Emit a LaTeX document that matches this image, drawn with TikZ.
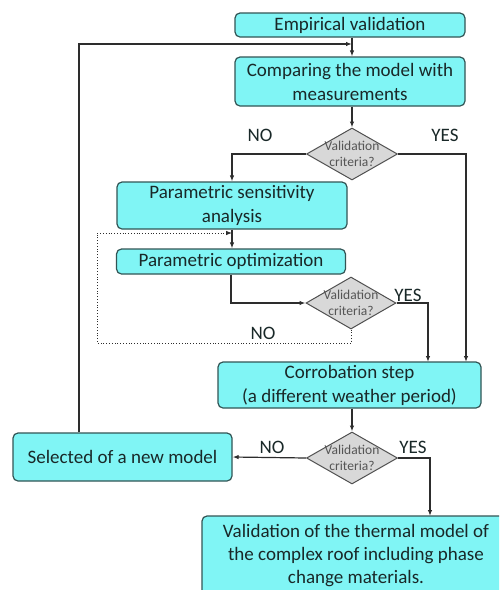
\documentclass[tikz,border=0pt]{standalone}
\usepackage{fontspec}
\setmainfont{Carlito}
\usetikzlibrary{shapes.geometric,arrows.meta,calc}
\definecolor{boxfill}{RGB}{128,245,245}
\definecolor{boxline}{RGB}{50,85,85}
\definecolor{boxtext}{RGB}{25,40,40}
\definecolor{dfill}{RGB}{216,216,216}
\definecolor{dline}{RGB}{80,80,80}
\definecolor{dtextc}{RGB}{85,85,85}
\definecolor{conn}{RGB}{45,45,45}
\tikzset{
  stepbox/.style={draw=boxline, fill=boxfill, line width=1.2pt, rounded corners=5pt,
    inner sep=0pt, align=center, text=boxtext, font=\fontsize{19}{24}\selectfont},
  decision/.style={draw=dline, fill=dfill, line width=1pt, diamond, inner sep=0pt},
  dlabel/.style={align=center, text=dtextc, inner sep=0pt, font=\fontsize{13.5}{15.5}\selectfont},
  answer/.style={text=boxtext, inner sep=0pt, font=\fontsize{19}{22}\selectfont},
  arr/.style={draw=conn, line width=1.2pt, -{Latex[length=6pt,width=4.5pt]}},
  dotloop/.style={draw=conn, line width=0.8pt, dotted, -{Latex[length=6pt,width=4.5pt]}}
}
\begin{document}
\begin{tikzpicture}[x=1pt,y=-1pt]
\clip (0,0) rectangle (499,590);
\fill[white] (0,0) rectangle (499,590);

\node[stepbox, minimum width=230pt, minimum height=24pt] (emp) at (350,25) {Empirical validation};
\node[stepbox, minimum width=230pt, minimum height=49pt] (cmp) at (350,81.5) {Comparing the model with\\measurements};
\node[decision, minimum width=91pt, minimum height=52pt] (d1) at (352,154) {};
\node[dlabel] (t1) at (d1) {Validation\\criteria?};
\node[stepbox, minimum width=230pt, minimum height=47pt] (psa) at (232,205.5) {Parametric sensitivity\\analysis};
\node[stepbox, minimum width=229pt, minimum height=25pt] (po) at (231,261.5) {Parametric optimization};
\node[decision, minimum width=90pt, minimum height=52pt] (d2) at (351,303) {};
\node[dlabel] (t2) at (d2) {Validation\\criteria?};
\node[stepbox, minimum width=263pt, minimum height=46pt] (cor) at (349.5,385) {Corrobation step\\(a different weather period)};
\node[decision, minimum width=91pt, minimum height=52pt] (d3) at (352,458) {};
\node[dlabel] (t3) at (d3) {Validation\\criteria?};
\node[stepbox, minimum width=219pt, minimum height=48pt] (sel) at (122.5,457) {Selected of a new model};
\node[stepbox, minimum width=308pt, minimum height=80pt, font=\fontsize{19}{23}\selectfont] (fin) at (356,556) {Validation of the thermal model of\\the complex roof including phase\\change materials.};

\node[answer] (no1) at (260,135) {NO};
\node[answer] (yes1) at (445,135) {YES};
\node[answer] (yes2) at (408,295) {YES};
\node[answer] (no2) at (263,333) {NO};
\node[answer] (no3) at (272,447) {NO};
\node[answer] (yes3) at (413,447) {YES};

\coordinate (lp) at (79,44);
\coordinate (rA) at (466,362);
\coordinate (rB) at (428,362);
\coordinate (rC) at (430,516);
\coordinate (dl) at (97,343);
\coordinate (dt) at (97,233);

\draw[arr] (emp.south -| d1) -- (cmp.north -| d1);
\draw[arr] (sel.north -| lp) -- (lp) -- (lp -| d1);
\draw[arr] (cmp.south -| d1) -- (d1.north);
\draw[arr] (d1.west) -| (psa.north);
\draw[arr] (d1.east) -| (rA);
\draw[arr] (psa.south) -- (psa.south |- po.north);
\draw[arr] (po.south) |- (d2.west);
\draw[arr] (d2.east) -| (rB);
\draw[dotloop] (d2.south) |- (dl) -- (dt) -- (dt -| psa.south);
\draw[arr] (cor.south -| d3) -- (d3.north);
\draw[arr] (d3.west) -- (sel.east);
\draw[arr] (d3.east) -| (rC);
\end{tikzpicture}
\end{document}
